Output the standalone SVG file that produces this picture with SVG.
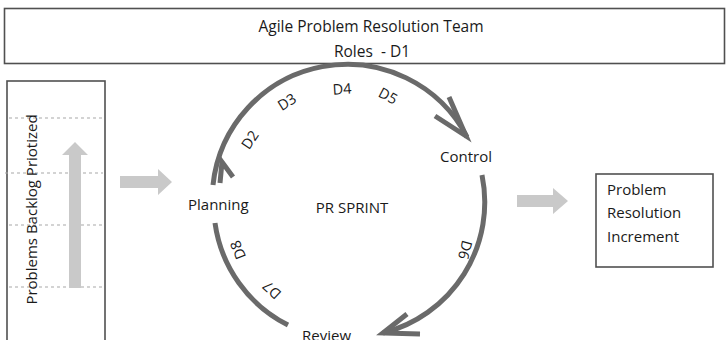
<svg xmlns="http://www.w3.org/2000/svg" width="728" height="340" viewBox="0 0 728 340">
  <style>
    .box { fill: #ffffff; stroke: #505050; stroke-width: 1.6; }
    .lbl { font-family: "Open Sans", "Liberation Sans", sans-serif; font-size: 15px; fill: #1a1a1a; }
    .title { font-size: 15.5px; white-space: pre; }
    .d { font-family: "Open Sans", "Liberation Sans", sans-serif; font-size: 14.5px; fill: #1a1a1a; text-anchor: middle; }
    .cyc { fill: none; stroke: #6a6a6a; stroke-width: 5; }
    .head { fill: none; stroke: #6a6a6a; stroke-width: 5; stroke-linejoin: miter; }
    .flow { fill: #c9c9c9; }
    .dash { stroke: #a8a8a8; stroke-width: 1.2; stroke-dasharray: 3 3; }
  </style>

  <rect width="728" height="340" fill="#ffffff"/>

  <!-- team / roles banner -->
  <g id="team">
    <rect class="box" x="4.5" y="8.5" width="720" height="55"/>
    <text class="lbl title" x="371" y="32" text-anchor="middle">Agile Problem Resolution Team</text>
    <text class="lbl title" x="372" y="57" text-anchor="middle">Roles  - D1</text>
  </g>

  <!-- prioritised backlog column -->
  <g id="backlog">
    <rect class="box" x="7" y="81" width="98" height="270"/>
    <line class="dash" x1="9" y1="118" x2="103" y2="118"/>
    <line class="dash" x1="5" y1="173" x2="103" y2="173"/>
    <line class="dash" x1="9" y1="225" x2="103" y2="225"/>
    <line class="dash" x1="9" y1="287" x2="103" y2="287"/>
    <polygon class="flow" points="69,288 69,155 62,155 75,142 88,155 81,155 81,288"/>
    <text class="lbl" transform="translate(37,209.5) rotate(-90)" text-anchor="middle">Problems Backlog Priotized</text>
  </g>

  <!-- sprint cycle -->
  <g id="planning">
    <text class="lbl" x="188" y="210">Planning</text>
  </g>
  <g id="sprint">
    <text class="lbl" x="352" y="213" text-anchor="middle">PR SPRINT</text>
  </g>
  <g id="control">
    <text class="lbl" x="440" y="162">Control</text>
  </g>
  <g id="review">
    <text class="lbl" x="302" y="341">Review</text>
  </g>

  <!-- increment output -->
  <g id="increment">
    <rect class="box" x="596" y="174" width="117" height="93"/>
    <text class="lbl" x="607" y="195">Problem</text>
    <text class="lbl" x="607" y="218">Resolution</text>
    <text class="lbl" x="607" y="242">Increment</text>
  </g>

  <g id="connectors">
    <!-- flow arrows -->
    <polygon class="flow" points="120,176 158,176 158,169 172,182 158,195 158,188 120,188"/>
    <polygon class="flow" points="517,195 553,195 553,188 568,201 553,214 553,207 517,207"/>

    <!-- planning to control -->
    <path class="cyc" d="M213,185 A135,135 0 0 1 467,137"/>
    <polyline class="head" points="220,183 222,162 233,177"/>
    <polyline class="head" points="435,116 466,136 449,97"/>

    <!-- control to review -->
    <path class="cyc" d="M482,175 A135,135 0 0 1 383,333"/>
    <polyline class="head" points="407,314 383,333 420,334"/>

    <!-- review back to planning -->
    <path class="cyc" d="M288,325 A135,135 0 0 1 215,223"/>

    <!-- day markers -->
    <text class="d" transform="translate(250,140) rotate(-56)" dy="5">D2</text>
    <text class="d" transform="translate(287,102) rotate(-32)" dy="5">D3</text>
    <text class="d" transform="translate(342,89) rotate(-4)" dy="5">D4</text>
    <text class="d" transform="translate(388,96) rotate(28)" dy="5">D5</text>
    <text class="d" transform="translate(465,250) rotate(105)" dy="5">D6</text>
    <text class="d" transform="translate(272,290) rotate(223)" dy="5">D7</text>
    <text class="d" transform="translate(238,250) rotate(248)" dy="5">D8</text>
  </g>
</svg>
